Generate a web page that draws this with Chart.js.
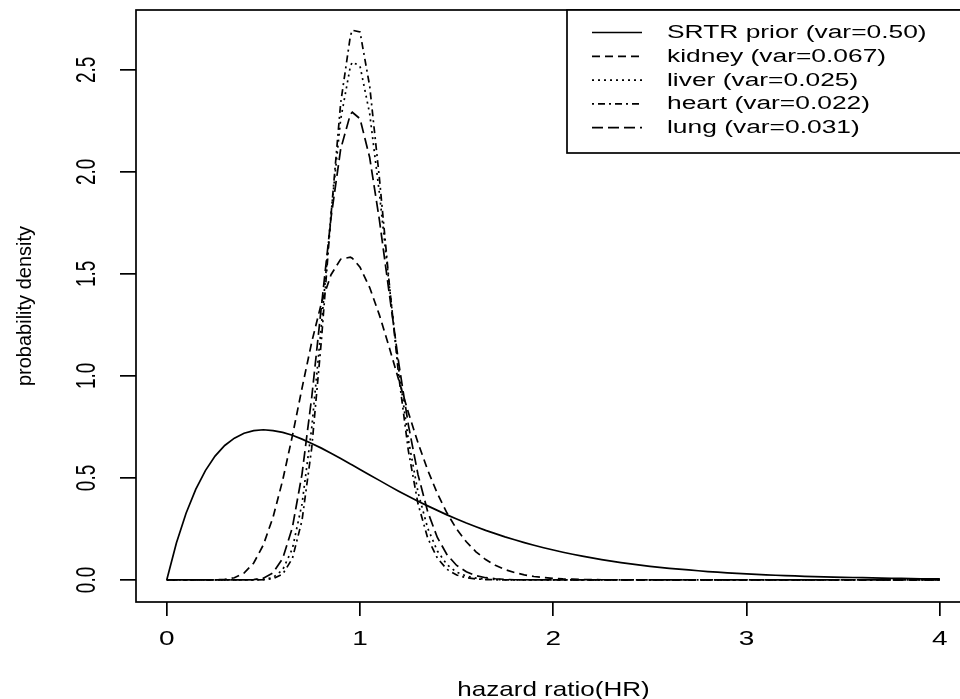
<!DOCTYPE html>
<html>
<head>
<meta charset="utf-8">
<title>probability density of hazard ratio</title>
<script src="https://cdn.jsdelivr.net/npm/chart.js@4/dist/chart.umd.min.js"></script>
<style>
  html, body { margin: 0; padding: 0; overflow: hidden; background: #fff; }
  canvas { display: block; }
</style>
</head>
<body>
<canvas id="densityChart" width="980" height="699"></canvas>
<script>
// hazard ratio grid (0.96 added so the peaks keep their height)
const xs = [
  0, 0.05, 0.1, 0.15, 0.2, 0.25, 0.3, 0.35, 0.4, 0.45,
  0.5, 0.55, 0.6, 0.65, 0.7, 0.75, 0.8, 0.85, 0.9, 0.95,
  0.96,
  1, 1.05, 1.1, 1.15, 1.2, 1.25, 1.3, 1.35, 1.4, 1.45,
  1.5, 1.55, 1.6, 1.65, 1.7, 1.75, 1.8, 1.85, 1.9, 1.95,
  2, 2.05, 2.1, 2.15, 2.2, 2.25, 2.3, 2.35, 2.4, 2.45,
  2.5, 2.55, 2.6, 2.65, 2.7, 2.75, 2.8, 2.85, 2.9, 2.95,
  3, 3.05, 3.1, 3.15, 3.2, 3.25, 3.3, 3.35, 3.4, 3.45,
  3.5, 3.55, 3.6, 3.65, 3.7, 3.75, 3.8, 3.85, 3.9, 3.95,
  4,
]

const srtr = [
  0, 0.181, 0.327, 0.444, 0.536, 0.607, 0.659, 0.695, 0.719, 0.732,
  0.736, 0.732, 0.723, 0.709, 0.690, 0.669, 0.646, 0.621, 0.595, 0.568,
  0.563,
  0.541, 0.514, 0.488, 0.461, 0.435, 0.410, 0.386, 0.363, 0.341, 0.319,
  0.299, 0.279, 0.261, 0.243, 0.227, 0.211, 0.197, 0.183, 0.170, 0.158,
  0.147, 0.136, 0.126, 0.117, 0.108, 0.100, 0.092, 0.085, 0.079, 0.073,
  0.067, 0.062, 0.057, 0.053, 0.049, 0.045, 0.041, 0.038, 0.035, 0.032,
  0.030, 0.027, 0.025, 0.023, 0.021, 0.020, 0.018, 0.016, 0.015, 0.014,
  0.013, 0.012, 0.011, 0.010, 0.009, 0.008, 0.008, 0.007, 0.006, 0.006,
  0.005,
]

const kidney = [
  0, 0, 0, 0, 0, 0.0005, 0.003, 0.011, 0.034, 0.083,
  0.172, 0.307, 0.489, 0.706, 0.940, 1.165, 1.356, 1.496, 1.572, 1.582,
  1.577,
  1.533, 1.433, 1.299, 1.144, 0.981, 0.821, 0.672, 0.539, 0.424, 0.328,
  0.249, 0.187, 0.138, 0.100, 0.072, 0.051, 0.036, 0.025, 0.017, 0.012,
  0.008, 0.005, 0.004, 0.002, 0.002, 0.001, 0.001, 0, 0, 0,
  0, 0, 0, 0, 0, 0, 0, 0, 0, 0,
  0, 0, 0, 0, 0, 0, 0, 0, 0, 0,
  0, 0, 0, 0, 0, 0, 0, 0, 0, 0,
  0,
]

const liver = [
  0, 0, 0, 0, 0, 0, 0, 0, 0, 0.0003,
  0.002, 0.012, 0.050, 0.153, 0.373, 0.744, 1.247, 1.795, 2.258, 2.517,
  2.538,
  2.518, 2.285, 1.898, 1.454, 1.035, 0.688, 0.430, 0.254, 0.142, 0.075,
  0.038, 0.019, 0.009, 0.004, 0.002, 0.001, 0, 0, 0, 0,
  0, 0, 0, 0, 0, 0, 0, 0, 0, 0,
  0, 0, 0, 0, 0, 0, 0, 0, 0, 0,
  0, 0, 0, 0, 0, 0, 0, 0, 0, 0,
  0, 0, 0, 0, 0, 0, 0, 0, 0, 0,
  0,
]

const heart = [
  0, 0, 0, 0, 0, 0, 0, 0, 0, 0.0001,
  0.001, 0.006, 0.029, 0.105, 0.292, 0.646, 1.172, 1.788, 2.338, 2.665,
  2.694,
  2.685, 2.420, 1.972, 1.466, 1.002, 0.634, 0.373, 0.206, 0.107, 0.052,
  0.024, 0.011, 0.005, 0.002, 0.001, 0, 0, 0, 0, 0,
  0, 0, 0, 0, 0, 0, 0, 0, 0, 0,
  0, 0, 0, 0, 0, 0, 0, 0, 0, 0,
  0, 0, 0, 0, 0, 0, 0, 0, 0, 0,
  0, 0, 0, 0, 0, 0, 0, 0, 0, 0,
  0,
]

const lung = [
  0, 0, 0, 0, 0, 0, 0, 0, 0.0002, 0.002,
  0.009, 0.035, 0.106, 0.257, 0.519, 0.894, 1.339, 1.775, 2.112, 2.282,
  2.292,
  2.260, 2.070, 1.766, 1.413, 1.065, 0.760, 0.516, 0.335, 0.208, 0.124,
  0.071, 0.040, 0.021, 0.011, 0.006, 0.003, 0.001, 0.001, 0, 0,
  0, 0, 0, 0, 0, 0, 0, 0, 0, 0,
  0, 0, 0, 0, 0, 0, 0, 0, 0, 0,
  0, 0, 0, 0, 0, 0, 0, 0, 0, 0,
  0, 0, 0, 0, 0, 0, 0, 0, 0, 0,
  0,
]

const seriesLabels = [
  "SRTR prior (var=0.50)",
  "kidney (var=0.067)",
  "liver (var=0.025)",
  "heart (var=0.022)",
  "lung (var=0.031)",
]

const xTicks = [0, 1, 2, 3, 4]
const xTickLabels = ["0", "1", "2", "3", "4"]
const yTicks = [0, 0.5, 1, 1.5, 2, 2.5]
const yTickLabels = ["0.0", "0.5", "1.0", "1.5", "2.0", "2.5"]

const FONT = '"Liberation Sans", Arial, Helvetica, sans-serif'

function toPoints(ys) {
  return xs.map((x, i) => ({ x: x, y: ys[i] }))
}

function makeSeries(label, ys, dash) {
  return {
    label: label,
    data: toPoints(ys),
    borderColor: "#000",
    borderWidth: 1.7,
    borderDash: dash,
    pointRadius: 0,
    tension: 0,
    fill: false,
  }
}

// text in the picture is stretched sideways, so draw it by hand
function drawText(ctx, text, x, y, size, sx, rotate, align, baseline) {
  ctx.save()
  ctx.translate(x, y)
  ctx.scale(sx, 1)
  if (rotate) ctx.rotate(-Math.PI / 2)
  ctx.font = size + "px " + FONT
  ctx.fillStyle = "#000"
  ctx.textAlign = align
  ctx.textBaseline = baseline
  ctx.fillText(text, 0, 0)
  ctx.restore()
}

const framePlugin = {
  id: "frame",
  afterDraw(chart) {
    const ctx = chart.ctx
    const area = chart.chartArea
    const xScale = chart.scales.x
    const yScale = chart.scales.y

    // plot box
    ctx.save()
    ctx.strokeStyle = "#000"
    ctx.lineWidth = 1.7
    ctx.strokeRect(area.left, area.top, area.right - area.left, area.bottom - area.top)
    ctx.restore()

    // tick labels
    xTicks.forEach((v, i) => {
      drawText(ctx, xTickLabels[i], xScale.getPixelForValue(v), 639, 20, 1.4, false, "center", "middle")
    })
    yTicks.forEach((v, i) => {
      drawText(ctx, yTickLabels[i], 87.5, yScale.getPixelForValue(v), 19, 1.5, true, "center", "middle")
    })

    // axis titles
    drawText(ctx, "hazard ratio(HR)", (area.left + area.right) / 2, 696, 21, 1.24, false, "center", "alphabetic")
    drawText(ctx, "probability density", 25, (area.top + area.bottom) / 2, 20, 1, true, "center", "middle")

    // legend, top right inside the box
    const boxLeft = 567
    const boxBottom = 153
    ctx.save()
    ctx.fillStyle = "#fff"
    ctx.fillRect(boxLeft, area.top, area.right - boxLeft, boxBottom - area.top)
    ctx.strokeStyle = "#000"
    ctx.lineWidth = 1.7
    ctx.strokeRect(boxLeft, area.top, area.right - boxLeft, boxBottom - area.top)
    ctx.restore()

    chart.data.datasets.forEach((ds, i) => {
      const rowY = 32.5 + i * 23.8
      ctx.save()
      ctx.strokeStyle = "#000"
      ctx.lineWidth = 1.7
      ctx.setLineDash(ds.borderDash || [])
      ctx.beginPath()
      ctx.moveTo(592, rowY)
      ctx.lineTo(642, rowY)
      ctx.stroke()
      ctx.restore()
      drawText(ctx, ds.label, 667, rowY + 0.5, 18, 1.465, false, "left", "middle")
    })
  },
}

function initializeDensityChart() {
  const ctx = document.getElementById("densityChart")
  if (!ctx) return

  new Chart(ctx, {
    type: "line",
    data: {
      datasets: [
        makeSeries(seriesLabels[0], srtr, []),
        makeSeries(seriesLabels[1], kidney, [8, 5]),
        makeSeries(seriesLabels[2], liver, [2, 4]),
        makeSeries(seriesLabels[3], heart, [2, 4, 7, 4]),
        makeSeries(seriesLabels[4], lung, [11, 5]),
      ],
    },
    options: {
      responsive: false,
      animation: false,
      devicePixelRatio: 1,
      layout: {
        padding: { top: 10, right: 9, left: 0, bottom: 0 },
      },
      plugins: {
        legend: { display: false },
        tooltip: { enabled: false },
      },
      scales: {
        x: {
          type: "linear",
          min: -0.159,
          max: 4.161,
          afterBuildTicks: (scale) => {
            scale.ticks = xTicks.map((v) => ({ value: v }))
          },
          afterFit: (scale) => {
            scale.height = 97
          },
          ticks: { display: false },
          border: { display: false },
          grid: {
            display: true,
            drawOnChartArea: false,
            drawTicks: true,
            tickLength: 14,
            color: "#000",
            lineWidth: 1.7,
          },
        },
        y: {
          type: "linear",
          min: -0.108,
          max: 2.793,
          afterBuildTicks: (scale) => {
            scale.ticks = yTicks.map((v) => ({ value: v }))
          },
          afterFit: (scale) => {
            scale.width = 136
          },
          ticks: { display: false },
          border: { display: false },
          grid: {
            display: true,
            drawOnChartArea: false,
            drawTicks: true,
            tickLength: 16,
            color: "#000",
            lineWidth: 1.7,
          },
        },
      },
    },
    plugins: [framePlugin],
  })
}

document.addEventListener("DOMContentLoaded", () => {
  initializeDensityChart()
})
</script>
</body>
</html>
